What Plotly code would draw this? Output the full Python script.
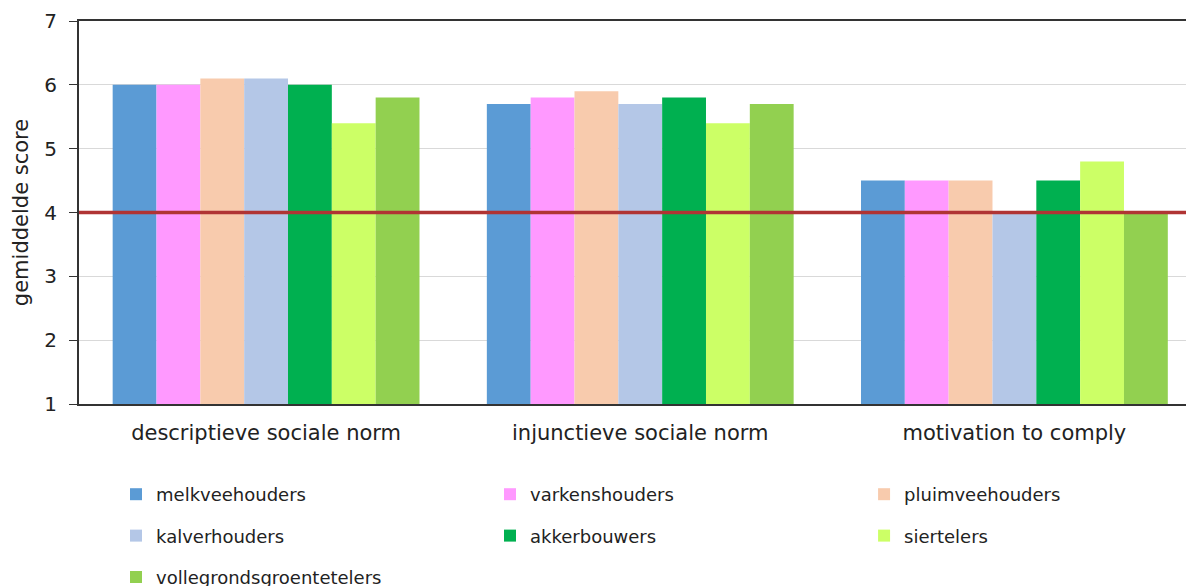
import plotly.graph_objects as go

# categories on the x axis
categories = ["descriptieve sociale norm", "injunctieve sociale norm", "motivation to comply"]

# groups of growers / farmers and their scores per category
groups = ["melkveehouders", "varkenshouders", "pluimveehouders", "kalverhouders",
          "akkerbouwers", "siertelers", "vollegrondsgroentetelers"]
melkveehouders = [6.0, 5.7, 4.5]
varkenshouders = [6.0, 5.8, 4.5]
pluimveehouders = [6.1, 5.9, 4.5]
kalverhouders = [6.1, 5.7, 4.0]
akkerbouwers = [6.0, 5.8, 4.5]
siertelers = [5.4, 5.4, 4.8]
vollegrondsgroentetelers = [5.8, 5.7, 4.0]

# reference line (neutral score)
reference_score = 4

colors = ["#5B9BD5", "#FF99FF", "#F8CBAD", "#B4C7E7", "#00B050", "#CCFF66", "#92D050"]
series = [melkveehouders, varkenshouders, pluimveehouders, kalverhouders,
          akkerbouwers, siertelers, vollegrondsgroentetelers]
# legend is laid out in three columns (one plotly legend per column)
legend_of = ["legend", "legend2", "legend3", "legend", "legend2", "legend3", "legend"]

font = "DejaVu Sans, Verdana, sans-serif"
text_color = "#222222"

fig = go.Figure()
for name, values, color, leg in zip(groups, series, colors, legend_of):
    fig.add_trace(go.Bar(
        x=categories,
        y=[v - 1 for v in values],
        base=1,
        name=name,
        legendgroup=name,
        marker=dict(color=color, line=dict(width=0)),
        legend=leg,
    ))

fig.add_hline(y=reference_score, line=dict(color="#B03434", width=3.5))

legend_style = dict(
    orientation="v",
    xanchor="left",
    yanchor="top",
    y=-0.188,
    tracegroupgap=15,
    font=dict(family=font, size=18, color=text_color),
    bgcolor="rgba(0,0,0,0)",
    itemclick=False,
)

# the page body adds ~8px offset, so margins are set a bit smaller
fig.update_layout(
    width=1194,
    height=586,
    margin=dict(l=71, r=8, t=13, b=190, autoexpand=False),
    paper_bgcolor="white",
    plot_bgcolor="white",
    barmode="group",
    bargap=0.18,
    bargroupgap=0,
    font=dict(family=font, size=20, color=text_color),
    legend=dict(legend_style, x=0.0332),
    legend2=dict(legend_style, x=0.3686),
    legend3=dict(legend_style, x=0.7041),
)

fig.update_xaxes(
    range=[-0.5, 2.48],
    automargin=False,
    showline=True,
    linecolor="#333333",
    linewidth=2,
    mirror=True,
    showgrid=False,
    ticks="",
    ticklabelstandoff=9,
    tickfont=dict(family=font, size=21, color=text_color),
)

fig.update_yaxes(
    range=[1, 7],
    dtick=1,
    automargin=False,
    showline=True,
    linecolor="#333333",
    linewidth=2,
    showgrid=True,
    gridcolor="#D9D9D9",
    gridwidth=1,
    zeroline=False,
    ticks="outside",
    ticklen=8,
    tickcolor="#333333",
    ticklabelstandoff=8,
    tickfont=dict(family=font, size=20, color=text_color),
    title=dict(text="gemiddelde score", font=dict(family=font, size=21, color=text_color), standoff=10),
)

fig.write_html("out.html")
